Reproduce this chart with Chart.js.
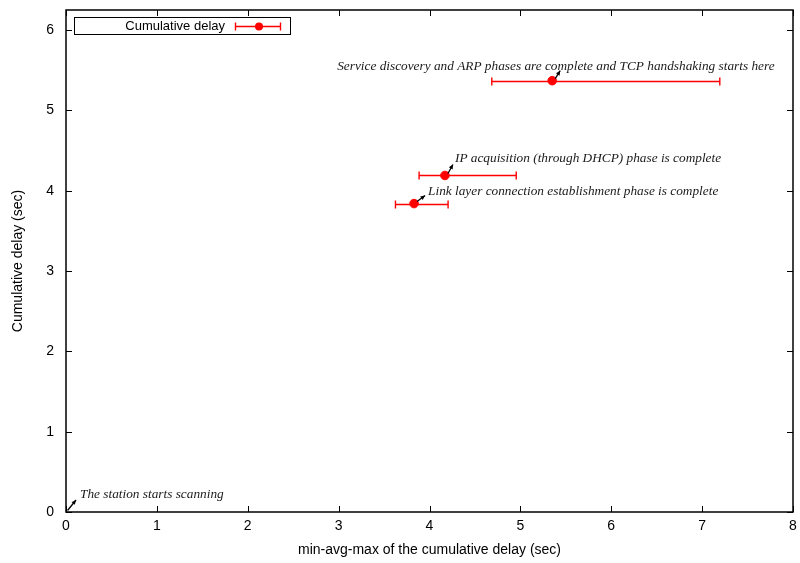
<!DOCTYPE html>
<html>
<head>
<meta charset="utf-8">
<script src="https://cdn.jsdelivr.net/npm/chart.js@4"></script>
<style>
  html, body { margin: 0; padding: 0; background: #fff; }
  canvas { display: block; }
</style>
</head>
<body>
<canvas id="delay-chart" width="800" height="563"></canvas>
<script>
// min / avg / max of the cumulative delay at each phase (sec)
const delayAvg = [3.83, 4.17, 5.35];
const delayMin = [3.62, 3.88, 4.68];
const delayMax = [4.21, 4.96, 7.20];
const delayY = [3.84, 4.19, 5.37];

// phase notes, anchored at data points (first one at the origin)
const noteText = [
    'The station starts scanning',
    'Link layer connection establishment phase is complete',
    'IP acquisition (through DHCP) phase is complete',
    'Service discovery and ARP phases are complete and TCP handshaking starts here'
];
const noteX = [0, 3.83, 4.17, 5.35];
const noteY = [0, 3.84, 4.19, 5.37];

const xTicks = [0, 1, 2, 3, 4, 5, 6, 7, 8];
const yTicks = [0, 1, 2, 3, 4, 5, 6];

const RED = '#ff0000';
const SANS = '"Liberation Sans", Arial, sans-serif';
const SERIF = '"Liberation Serif", "Times New Roman", serif';

const drawErrorBar = (ctx, x1, x2, y, cap) => {
    ctx.beginPath();
    ctx.moveTo(x1, y); ctx.lineTo(x2, y);
    ctx.moveTo(x1 + 0.5, y - cap); ctx.lineTo(x1 + 0.5, y + cap);
    ctx.moveTo(x2 - 0.5, y - cap); ctx.lineTo(x2 - 0.5, y + cap);
    ctx.stroke();
};

const errorBars = {
    id: 'errorBars',
    beforeDatasetsDraw(chart) {
        const { ctx, scales: { x, y } } = chart;
        ctx.save();
        ctx.strokeStyle = RED;
        ctx.lineWidth = 1.4;
        delayAvg.forEach((_, i) => {
            const py = Math.round(y.getPixelForValue(delayY[i])) + 0.5;
            drawErrorBar(ctx, x.getPixelForValue(delayMin[i]), x.getPixelForValue(delayMax[i]), py, 4);
        });
        ctx.restore();
    }
};

// gnuplot-like frame with inward ticks on all sides
const frame = {
    id: 'frame',
    afterDraw(chart) {
        const { ctx, chartArea: a, scales: { x, y } } = chart;
        ctx.save();
        ctx.strokeStyle = '#000';
        ctx.lineWidth = 1.5;
        ctx.strokeRect(a.left, a.top, a.right - a.left, a.bottom - a.top);
        ctx.lineWidth = 1;
        ctx.beginPath();
        xTicks.forEach(v => {
            const px = Math.round(x.getPixelForValue(v)) + 0.5;
            ctx.moveTo(px, a.bottom); ctx.lineTo(px, a.bottom - 6);
            ctx.moveTo(px, a.top); ctx.lineTo(px, a.top + 6);
        });
        yTicks.forEach(v => {
            const py = Math.round(y.getPixelForValue(v)) + 0.5;
            ctx.moveTo(a.left, py); ctx.lineTo(a.left + 6, py);
            ctx.moveTo(a.right, py); ctx.lineTo(a.right - 6, py);
        });
        ctx.stroke();
        ctx.restore();
    }
};

// tail offset of each arrow and start of its text, relative to the point
const noteOffsets = [
    { tx: 10, ty: -12, lx: 14, ly: -17 },
    { tx: 11, ty: -8, lx: 14, ly: -12 },
    { tx: 8, ty: -11, lx: 10, ly: -17 },
    { tx: 8, ty: -10, lx: -215, ly: -14 }
];

const notes = {
    id: 'notes',
    afterDraw(chart) {
        const { ctx, scales: { x, y } } = chart;
        ctx.save();
        ctx.font = 'italic 13.3px ' + SERIF;
        ctx.textBaseline = 'middle';
        ctx.textAlign = 'left';
        noteText.forEach((text, i) => {
            const px = x.getPixelForValue(noteX[i]);
            const py = y.getPixelForValue(noteY[i]);
            const o = noteOffsets[i];
            const ex = px + o.tx, ey = py + o.ty;
            const sx = px + (i === 0 ? 1.5 : 3), sy = py - (i === 0 ? 1.5 : 2);
            ctx.strokeStyle = '#000';
            ctx.fillStyle = '#000';
            ctx.lineWidth = 1.3;
            ctx.beginPath();
            ctx.moveTo(sx, sy); ctx.lineTo(ex, ey);
            ctx.stroke();
            // small arrow head at the text end
            const ang = Math.atan2(ey - sy, ex - sx);
            ctx.beginPath();
            ctx.moveTo(ex, ey);
            ctx.lineTo(ex - 5 * Math.cos(ang - 0.45), ey - 5 * Math.sin(ang - 0.45));
            ctx.lineTo(ex - 5 * Math.cos(ang + 0.45), ey - 5 * Math.sin(ang + 0.45));
            ctx.closePath();
            ctx.fill();
            ctx.fillStyle = '#1a1a1a';
            ctx.fillText(text, px + o.lx, py + o.ly);
        });
        ctx.restore();
    }
};

const keyBox = {
    id: 'keyBox',
    afterDraw(chart) {
        const { ctx, chartArea: a } = chart;
        const left = a.left + 8, top = a.top + 7, w = 216, h = 17;
        ctx.save();
        ctx.strokeStyle = '#000';
        ctx.lineWidth = 1;
        ctx.strokeRect(left + 0.5, top + 0.5, w, h);
        ctx.fillStyle = '#000';
        ctx.font = '13px ' + SANS;
        ctx.textAlign = 'right';
        ctx.textBaseline = 'middle';
        ctx.fillText('Cumulative delay', left + 151, top + h / 2 + 1);
        const cy = Math.round(top + h / 2) + 0.5;
        ctx.strokeStyle = RED;
        ctx.lineWidth = 1.4;
        drawErrorBar(ctx, left + 161, left + 207, cy, 4);
        ctx.fillStyle = RED;
        ctx.beginPath();
        ctx.arc(left + 185, cy, 4, 0, Math.PI * 2);
        ctx.fill();
        ctx.restore();
    }
};

const ctx = document.getElementById('delay-chart').getContext('2d');

const delayChart = new Chart(ctx, {
    type: 'scatter',
    data: {
        datasets: [{
            label: 'Cumulative delay',
            data: delayAvg.map((v, i) => ({ x: v, y: delayY[i] })),
            backgroundColor: RED,
            borderColor: RED,
            pointRadius: 4.3,
            pointHoverRadius: 4.3,
            showLine: false
        }]
    },
    options: {
        responsive: false,
        animation: false,
        layout: { padding: { top: 10, right: 7, left: 0, bottom: 0 } },
        plugins: {
            legend: { display: false },
            tooltip: { enabled: false }
        },
        scales: {
            x: {
                type: 'linear',
                min: 0,
                max: 8,
                afterBuildTicks: scale => { scale.ticks = xTicks.map(v => ({ value: v })); },
                ticks: { font: { family: SANS, size: 14 }, color: '#000', padding: 6 },
                grid: { display: false, drawTicks: false, tickLength: 0 },
                border: { display: false },
                title: {
                    display: true,
                    text: 'min-avg-max of the cumulative delay (sec)',
                    font: { family: SANS, size: 14 },
                    color: '#000',
                    padding: { top: 2, bottom: 4 }
                },
                afterFit: scale => {
                    scale.height = 51;
                    scale.paddingLeft = 0;
                    scale.paddingRight = 0;
                }
            },
            y: {
                type: 'linear',
                min: 0,
                max: 6.25,
                afterBuildTicks: scale => { scale.ticks = yTicks.map(v => ({ value: v })); },
                ticks: { font: { family: SANS, size: 14 }, color: '#000', padding: 12 },
                grid: { display: false, drawTicks: false, tickLength: 0 },
                border: { display: false },
                title: {
                    display: true,
                    text: 'Cumulative delay (sec)',
                    font: { family: SANS, size: 14 },
                    color: '#000',
                    padding: { top: 10, bottom: 0 }
                },
                afterFit: scale => {
                    scale.width = 66;
                    scale.paddingTop = 0;
                    scale.paddingBottom = 0;
                }
            }
        }
    },
    plugins: [errorBars, frame, notes, keyBox]
});
</script>
</body>
</html>
